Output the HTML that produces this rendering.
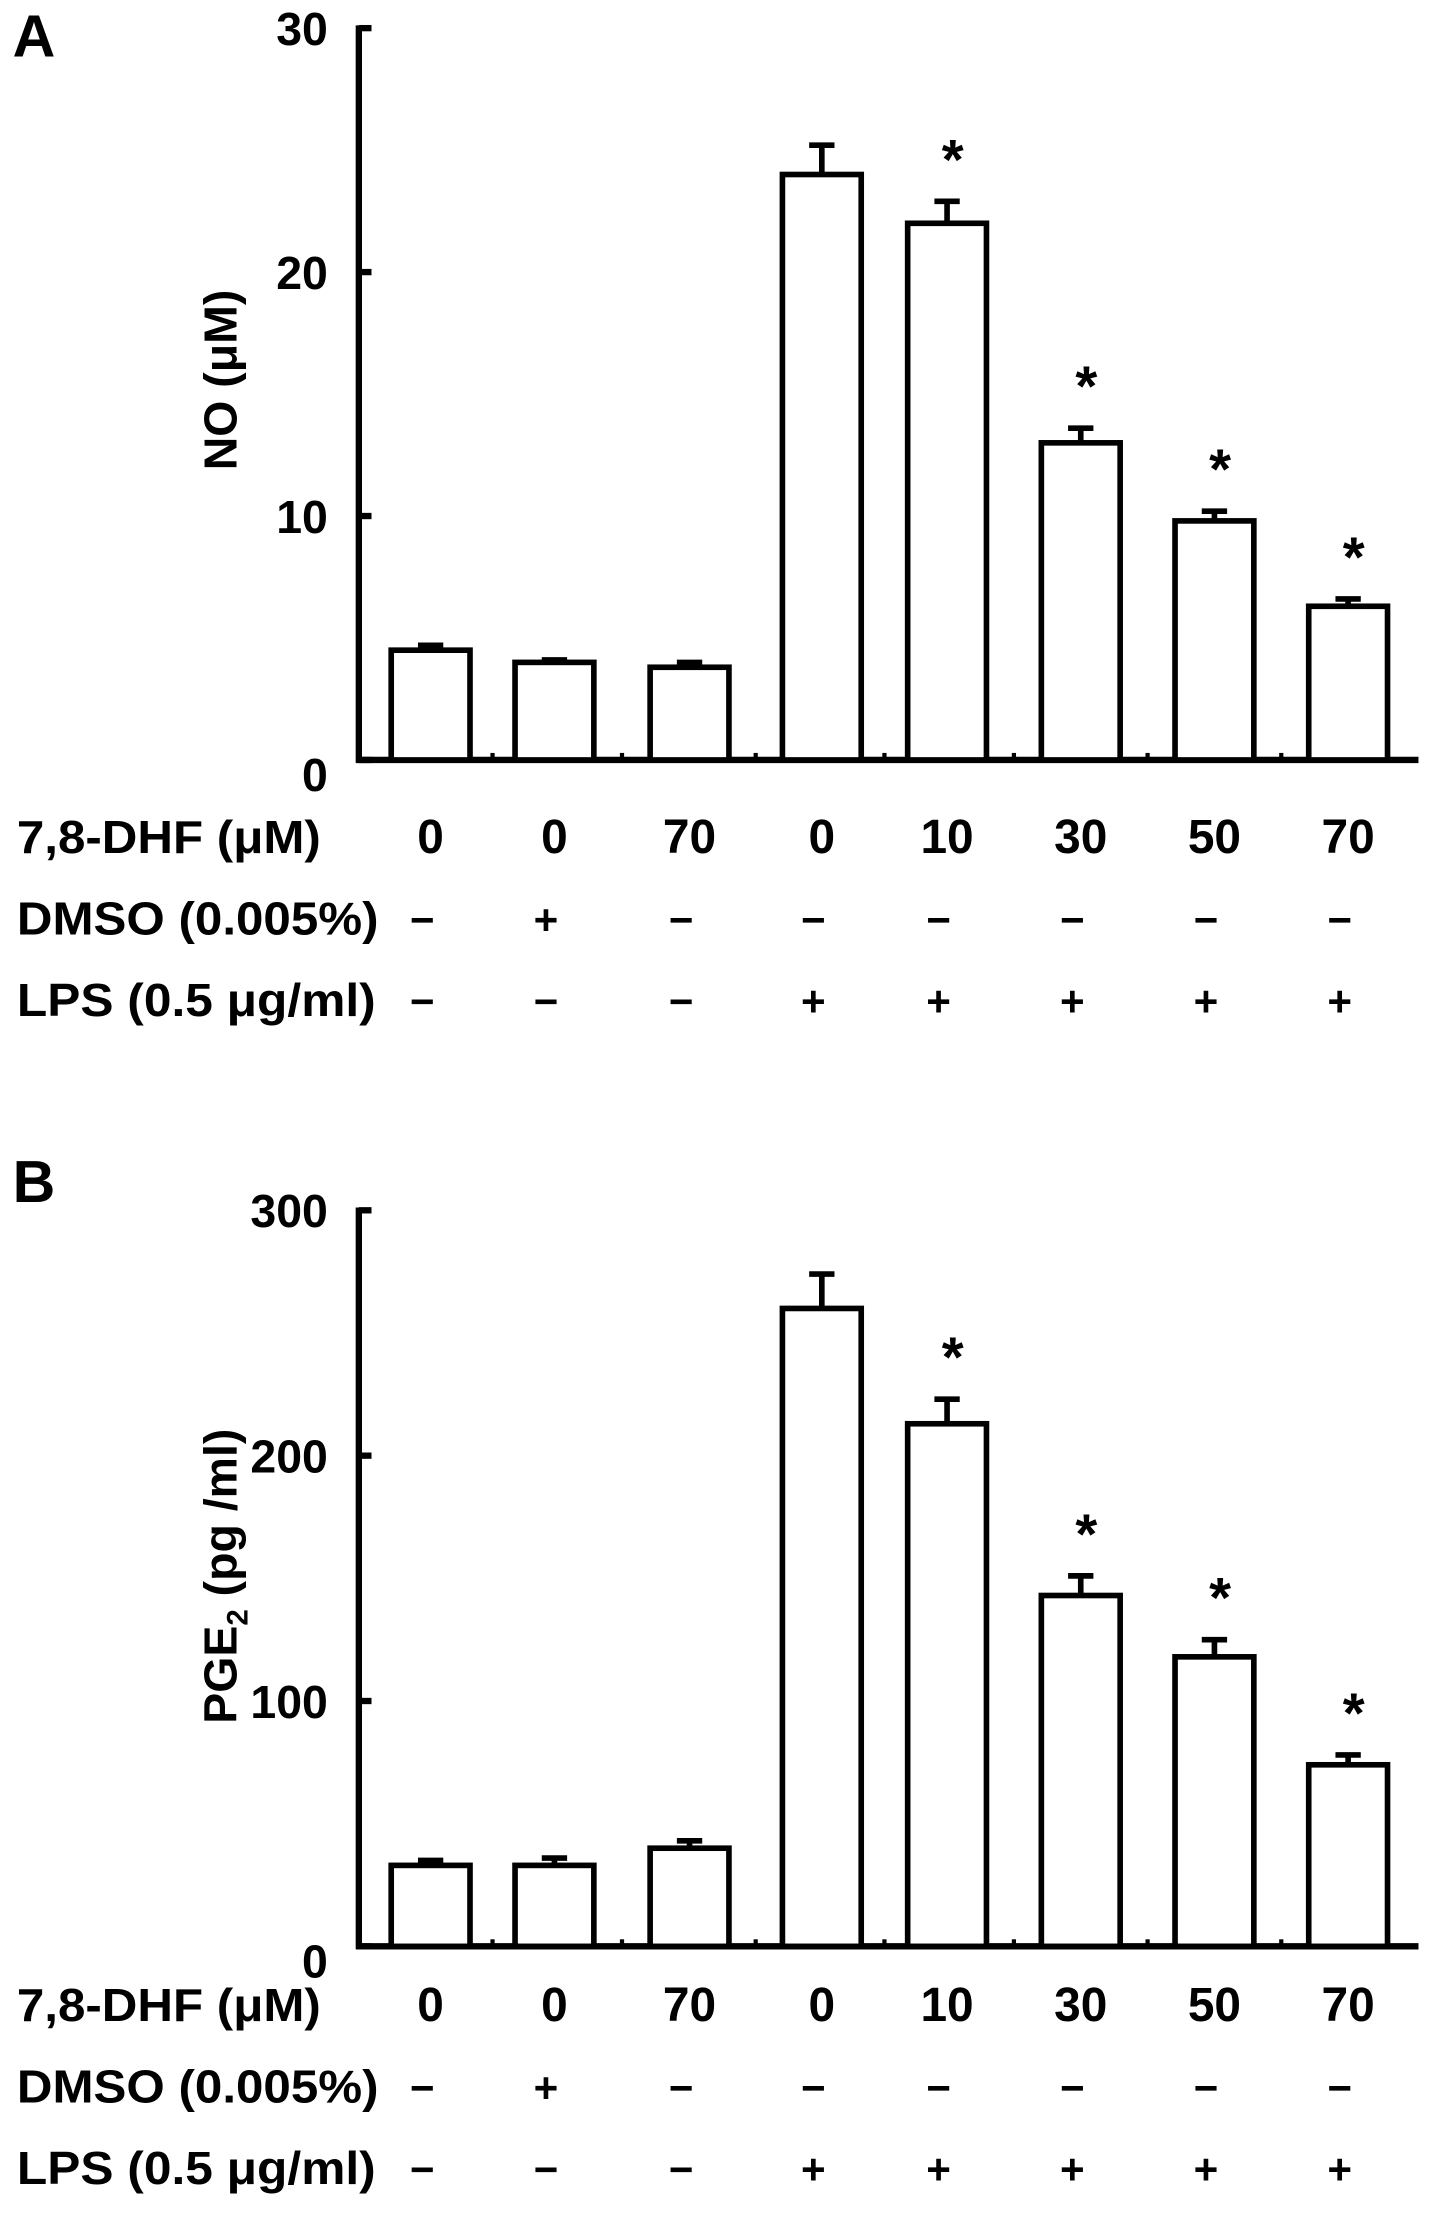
<!DOCTYPE html>
<html><head><meta charset="utf-8"><style>
html,body{margin:0;padding:0;background:#fff}
svg{display:block}
text{font-family:"Liberation Sans",Arial,sans-serif;font-weight:bold;fill:#000}
</style></head><body>
<svg id="fig" width="1441" height="2225" viewBox="0 0 1024 1581" preserveAspectRatio="none" xmlns="http://www.w3.org/2000/svg"></svg>
<script>
const groups = ["0","0","70","0","10","30","50","70"];
const dmso = ["−","+","−","−","−","−","−","−"];
const lps = ["−","−","−","+","+","+","+","+"];
const noValues = [4.5,4.0,3.8,24,22,13,9.8,6.3];
const noErrors = [0.2,0.1,0.2,1.2,0.9,0.6,0.4,0.3];
const noStars = [false,false,false,false,true,true,true,true];
const noTicks = [0,10,20,30];
const pgeValues = [33,33,40,260,213,143,118,74];
const pgeErrors = [2,3,3,14,10,8,7,4];
const pgeStars = [false,false,false,false,true,true,true,true];
const pgeTicks = [0,100,200,300];

const NS="http://www.w3.org/2000/svg";
const svg=document.getElementById('fig');
function mk(tag,attrs,parent){const e=document.createElementNS(NS,tag);for(const k in attrs)e.setAttribute(k,attrs[k]);(parent||svg).appendChild(e);return e;}
const centers=[306,394,490,584,673,768,863,958];
const barW=56;

function panel(cfg){
  const g=mk('g',{});
  
  
  const y=v=>cfg.y0-(v/cfg.max)*(cfg.y0-cfg.yTop);
  const lab=mk('text',{x:9,y:cfg.letterY,'font-size':42},g);lab.textContent=cfg.letter;
  
  
  const ya=mk('line',{x1:255,y1:cfg.yTop-2,x2:255,y2:cfg.y0+2,stroke:'#000','stroke-width':4.5},g);
  
  
  const xa=mk('line',{x1:253,y1:cfg.y0,x2:1008,y2:cfg.y0,stroke:'#000','stroke-width':4.5},g);
  
  
  cfg.ticks.forEach(t=>{
    mk('line',{x1:255,y1:y(t),x2:264,y2:y(t),stroke:'#000','stroke-width':4.5},g);
    const tx=mk('text',{x:233,y:y(t)+(t===0?22:12),'font-size':33,'text-anchor':'end'},g);
    tx.textContent=t;
    
    
  });
  for(let i=0;i<centers.length-1;i++){
    const mx=(centers[i]+centers[i+1])/2;
    mk('line',{x1:mx,y1:cfg.y0,x2:mx,y2:cfg.y0-5,stroke:'#000','stroke-width':3},g);
  }
  const yt=mk('text',{x:0,y:0,'font-size':33,'text-anchor':'middle',transform:`translate(168 ${cfg.titleY}) rotate(-90)`},g);
  yt.innerHTML=cfg.title;
  
  
  cfg.values.forEach((v,i)=>{
    const cx=centers[i], top=y(v), et=y(v+cfg.errors[i]);
    const b=mk('rect',{x:cx-barW/2,y:top,width:barW,height:cfg.y0-top,fill:'#fff',stroke:'#000','stroke-width':4},g);
    
    
    const e=mk('path',{d:`M${cx} ${top} V${et} M${cx-9} ${et} H${cx+9}`,stroke:'#000','stroke-width':4,fill:'none'},g);
    
    
    if(cfg.stars[i]){
      const s=mk('text',{x:cx+4,y:et-16,'font-size':40,'text-anchor':'middle'},g);
      s.textContent='*';
      
      
    }
  });
  const rows=[['7,8-DHF (μM)',groups,cfg.rowY],['DMSO (0.005%)',dmso,cfg.rowY+58],['LPS (0.5 μg/ml)',lps,cfg.rowY+116]];
  rows.forEach((r,ri)=>{
    const t=mk('text',{x:12,y:r[2]+12,'font-size':33,textLength:ri===0?216:(ri===1?257:255),lengthAdjust:'spacingAndGlyphs'},g);
    t.textContent=r[0];
    
    
    r[1].forEach((s,i)=>{
      const tx=mk('text',{x:ri===0?centers[i]:centers[i]-6,y:r[2]+12,'font-size':ri===0?34:30,'text-anchor':'middle','font-weight':ri===0?'bold':'normal'},g);
      tx.textContent=s;
      
      
    });
  });
}
panel({name:'panel-a-no',letter:'A',letterY:40,yTop:20,y0:540,max:30,ticks:noTicks,values:noValues,errors:noErrors,stars:noStars,title:'NO (μM)',titleY:270,rowY:594});
panel({name:'panel-b-pge2',letter:'B',letterY:854,yTop:860,y0:1383,max:300,ticks:pgeTicks,values:pgeValues,errors:pgeErrors,stars:pgeStars,title:'PGE<tspan font-size="21" dy="8">2</tspan><tspan dy="-8"> (pg /ml)</tspan>',titleY:1120,rowY:1424});
</script>
</body></html>
